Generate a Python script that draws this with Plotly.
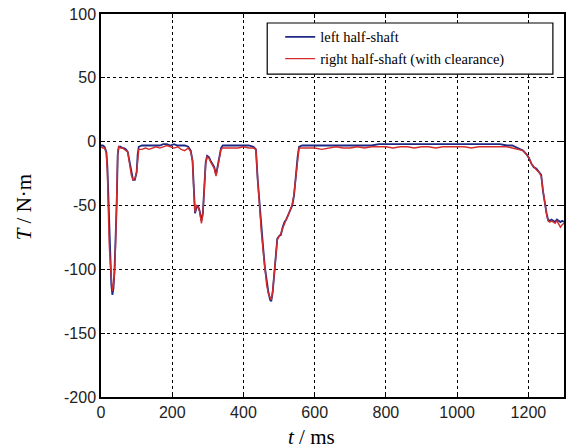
import plotly.graph_objects as go

t_ms = [0, 5, 10, 15, 18, 20, 23, 26, 29, 32, 35, 38, 41, 44, 47, 50, 55, 60, 65, 70, 75, 80, 85, 90, 95,
        100, 103, 106, 115, 125, 135, 145, 155, 165, 175, 185, 195, 205, 215, 225, 235, 245, 252, 257,
        261, 264, 268, 272, 277, 282, 286, 290, 294, 298, 303, 308, 313, 318, 323, 327, 332, 337, 342,
        355, 370, 385, 400, 415, 428, 435, 440, 445, 450, 455, 460, 465, 470, 475, 478, 482, 486, 490,
        495, 500, 505, 510, 515, 520, 525, 530, 537, 542, 548, 552, 556, 565, 580, 600, 620, 640, 660,
        680, 700, 720, 740, 760, 780, 800, 820, 840, 860, 880, 900, 920, 940, 960, 980, 1000, 1020,
        1040, 1060, 1080, 1100, 1120, 1140, 1155, 1170, 1185, 1195, 1202, 1208, 1215, 1222, 1230, 1236,
        1241, 1246, 1251, 1255, 1260, 1265, 1270, 1275, 1280, 1285, 1290, 1295, 1300]

left_T = [-3, -3, -4, -8, -20, -35, -70, -95, -112, -120, -115, -100, -80, -50, -10, -4, -4, -5, -5, -6, -8,
          -16, -25, -30, -30, -24, -10, -4, -3, -3, -3, -3, -3, -3, -2, -2, -3, -2, -3, -3, -3, -4, -7, -15,
          -43, -56, -52, -50, -54, -62, -56, -32, -16, -11, -12, -15, -17, -20, -26, -20, -12, -5, -3,
          -3, -3, -3, -3, -3, -4, -6, -30, -50, -68, -82, -98, -110, -118, -124, -125, -118, -106, -92,
          -76, -74, -73, -67, -63, -61, -58, -55, -50, -42, -22, -12, -4, -3, -3, -3, -3, -3, -3,
          -3, -3, -3, -3, -3, -2, -2, -2, -2, -2, -2, -2, -2, -2, -2, -2, -2, -2,
          -2, -2, -2, -2, -2, -3, -3, -5, -7, -10, -13, -17, -20, -21, -24, -26,
          -39, -49, -56, -61, -62, -61, -62, -63, -61, -62, -63, -62, -63]

right_T = [-4, -5, -5, -9, -25, -60, -80, -95, -110, -117, -112, -103, -80, -48, -8, -4, -5, -5, -6, -7, -8,
           -17, -26, -30, -29, -24, -11, -6, -6, -5, -6, -5, -4, -5, -4, -3, -4, -5, -4, -6, -7, -5, -8, -15,
           -42, -55, -50, -51, -55, -64, -57, -33, -17, -12, -13, -16, -18, -21, -27, -21, -13, -6, -5,
           -5, -5, -5, -4, -5, -5, -6, -30, -52, -70, -85, -100, -112, -119, -122, -124, -117, -105, -92,
           -77, -74, -72, -68, -64, -61, -58, -54, -49, -41, -24, -13, -5, -5, -5, -5, -6, -5, -4,
           -5, -5, -4, -5, -4, -4, -4, -5, -4, -4, -5, -4, -4, -5, -4, -4, -4, -4,
           -5, -4, -4, -4, -4, -4, -5, -6, -7, -10, -13, -17, -20, -22, -24, -27,
           -38, -50, -57, -62, -63, -62, -63, -64, -62, -64, -67, -65, -64]

x_ticks = [0, 200, 400, 600, 800, 1000, 1200]
x_tick_text = ["0", "200", "400", "600", "800", "1000", "1200"]
y_ticks = [-200, -150, -100, -50, 0, 50, 100]
y_tick_text = ["-200", "-150", "-100", "-50", "0", "50", "100"]

fig = go.Figure()
fig.add_trace(go.Scatter(x=t_ms, y=left_T, mode="lines", name="left half-shaft",
                         line=dict(color="#1f2a84", width=1.8)))
fig.add_trace(go.Scatter(x=t_ms, y=right_T, mode="lines", name="right half-shaft (with clearance)",
                         line=dict(color="#d42c2c", width=1.4)))

axis_common = dict(showline=True, linecolor="black", linewidth=1.5, mirror="ticks",
                   ticks="inside", ticklen=4, tickcolor="black",
                   showgrid=True, gridcolor="black", griddash="dot", gridwidth=1,
                   zeroline=False, ticklabeloverflow="allow",
                   tickfont=dict(family="Liberation Sans", size=16, color="#222"))

fig.update_xaxes(range=[0, 1300], tickvals=x_ticks, ticktext=x_tick_text, **axis_common)
fig.update_yaxes(range=[-200, 100], tickvals=y_ticks, ticktext=y_tick_text, **axis_common)

# legend frame
fig.add_shape(type="rect", xref="paper", yref="paper", x0=0.359, x1=0.976, y0=0.843, y1=0.9765,
              line=dict(color="black", width=1.2), fillcolor="white", layer="above")

fig.add_annotation(text="<i>T</i> / N·m", xref="paper", yref="paper", x=-0.1656, y=0.496,
                   textangle=-90, showarrow=False, xanchor="center", yanchor="middle",
                   font=dict(family="Liberation Serif", size=21, color="black"))
fig.add_annotation(text="<i>t</i> / ms", xref="paper", yref="paper", x=0.4538, y=-0.1044,
                   showarrow=False, xanchor="center", yanchor="middle",
                   font=dict(family="Liberation Serif", size=21, color="black"))

fig.update_layout(
    width=570, height=448,
    margin=dict(l=101, r=4, t=14, b=51),
    paper_bgcolor="white", plot_bgcolor="white",
    legend=dict(x=0.387, y=0.982, xanchor="left", yanchor="top",
                borderwidth=0, bgcolor="rgba(0,0,0,0)",
                font=dict(family="Liberation Serif", size=14.5, color="black"),
                tracegroupgap=0),
)

fig.write_html("out.html", config={"displayModeBar": False},
               post_script="document.body.style.margin='0';")
